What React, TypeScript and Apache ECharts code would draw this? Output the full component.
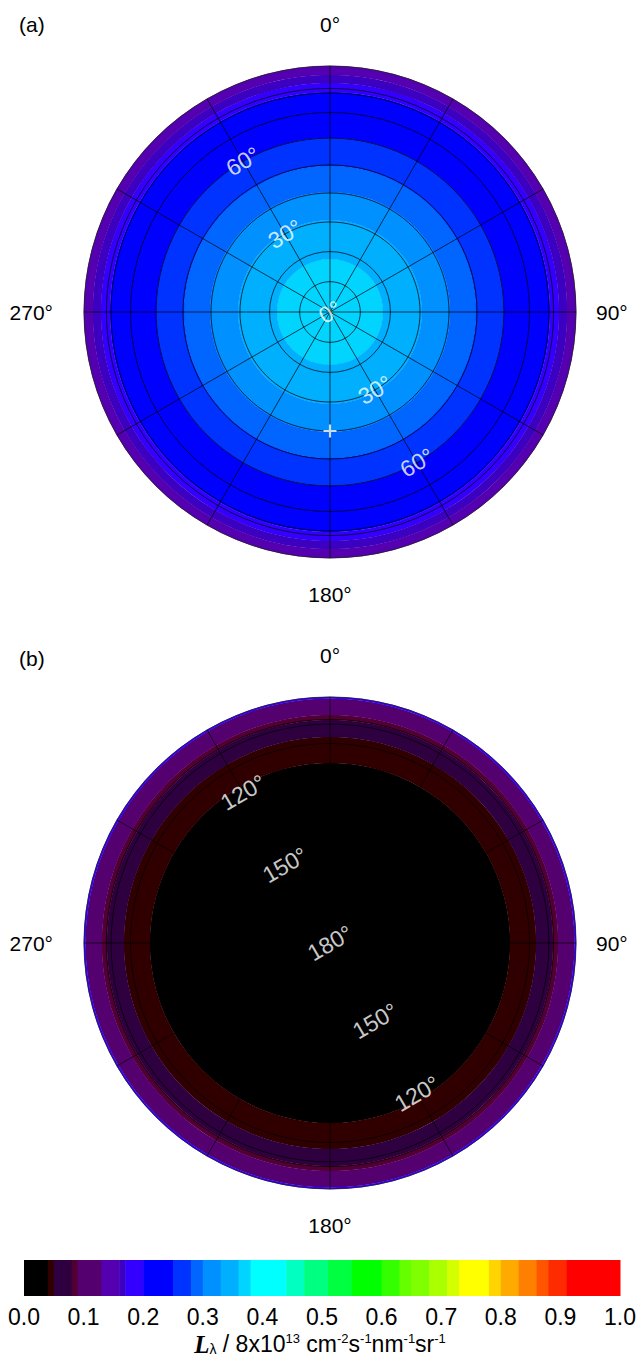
import React, { useEffect, useRef } from "react";
import * as echarts from "echarts";

// ---------- colour scale (colour bar) ----------
const CB_EDGES = [0, 0.04, 0.05, 0.08, 0.09, 0.13, 0.16, 0.17, 0.2, 0.25, 0.28, 0.3, 0.33, 0.36, 0.38, 0.44, 0.47, 0.51, 0.55, 0.6, 0.63, 0.65, 0.68, 0.71, 0.73, 0.78, 0.8, 0.83, 0.86, 0.88, 0.91, 1.0];
const CB_COLORS = [
  "#000000", "#300000", "#2e0040", "#520033", "#55006f", "#5500b0", "#3c00c0", "#3300ff",
  "#0000ff", "#0033ff", "#0066ff", "#0090ff", "#00b0ff", "#00d4ff", "#00ffff", "#00ffc0",
  "#00ff80", "#00ff40", "#00ff00", "#33ff00", "#66ff00", "#80ff00", "#aaff00", "#d4ff00",
  "#ffff00", "#ffd400", "#ffaa00", "#ff8000", "#ff5500", "#ff2b00", "#ff0000",
];
const CB_TICK_STEP = 0.1;

// ---------- azimuth ----------
const AZ_LABELED = [0, 90, 180, 270];
const AZ_LABEL_STYLE = ["t", "r", "b", "l"];
const SPOKE_STEP = 30;
const LABEL_SPOKES = [330, 150];

// ---------- panel (a): upward hemisphere, centred on zenith ----------
const A_BAND_OUTER = [17.5, 30.6, 40.3, 49.6, 60.0, 78.4, 82.3, 85.9, 90];
const A_BAND_LEVEL = [0.37, 0.345, 0.315, 0.29, 0.265, 0.225, 0.185, 0.165, 0.145];
const A_GRID = [10, 20, 30, 40, 50, 60, 70, 78, 80];
const A_LABEL_ZEN = [0, 30, 60];
const A_LABEL_TEXT = ["0°", "30°", "60°"];
const SUN_ZEN = 40;
const SUN_AZ = 180;

// ---------- panel (b): downward hemisphere, centred on nadir ----------
const B_BAND_OUTER = [117.7, 107.4, 100.3, 98.1, 90.8, 90];
const B_BAND_LEVEL = [0.02, 0.045, 0.065, 0.085, 0.11, 0.18];
const B_GRID = [170, 160, 150, 140, 130, 120, 110, 102, 100];
const B_LABEL_ZEN = [180, 150, 120];
const B_LABEL_TEXT = ["180°", "150°", "120°"];

const FONT = "'Liberation Sans', Arial, Helvetica, sans-serif";

// equal-area (Lambert azimuthal) radial coordinate, 0..1 for 0..90 deg off the pole
const toU = (offDeg: number) => Math.SQRT2 * Math.sin((offDeg * Math.PI) / 360);

const levelColor = (v: number) => {
  for (let i = 0; i < CB_COLORS.length; i++) {
    if (v >= CB_EDGES[i] && v < CB_EDGES[i + 1]) return CB_COLORS[i];
  }
  return CB_COLORS[CB_COLORS.length - 1];
};

function buildPanel(pi: number, pole: number, bandOuter: number[], bandLevel: number[], grid: number[], labZen: number[], labText: string[]) {
  const off = (z: number) => Math.abs(z - pole);
  const bandData = bandOuter.map((z, i) => {
    const inner = i === 0 ? 0 : toU(off(bandOuter[i - 1]));
    return [toU(off(z)), 0, inner, bandLevel[i]];
  });
  const gridData = grid.map((z) => [toU(off(z)), 0]);
  const labelData: any[] = [];
  labZen.forEach((z, i) => {
    const u = toU(off(z));
    if (u === 0) labelData.push({ value: [0, 0], name: labText[i] });
    else LABEL_SPOKES.forEach((az) => labelData.push({ value: [u, az], name: labText[i] }));
  });

  const radiusOf = (api: any, cs: any, u: number) => {
    const p = api.coord([u, 0]);
    return Math.hypot(p[0] - cs.cx, p[1] - cs.cy);
  };

  const series: any[] = [
    {
      type: "custom",
      coordinateSystem: "polar",
      polarIndex: pi,
      z: 1,
      silent: true,
      data: bandData,
      renderItem: (params: any, api: any) => {
        const cs = params.coordSys;
        const r = radiusOf(api, cs, api.value(0));
        const r0 = radiusOf(api, cs, api.value(2));
        return {
          type: "ring",
          shape: { cx: cs.cx, cy: cs.cy, r: r + 0.3, r0: r0 },
          style: { fill: levelColor(api.value(3)), stroke: null },
        };
      },
    },
    {
      type: "custom",
      coordinateSystem: "polar",
      polarIndex: pi,
      z: 2,
      silent: true,
      data: gridData,
      renderItem: (params: any, api: any) => {
        const cs = params.coordSys;
        const r = radiusOf(api, cs, api.value(0));
        return {
          type: "circle",
          shape: { cx: cs.cx, cy: cs.cy, r },
          style: { fill: "none", stroke: "#000", lineWidth: 0.7 },
        };
      },
    },
    {
      type: "scatter",
      coordinateSystem: "polar",
      polarIndex: pi,
      z: 6,
      silent: true,
      symbolSize: 1,
      itemStyle: { color: "rgba(0,0,0,0)" },
      data: labelData,
      label: {
        show: true,
        position: "inside",
        formatter: "{b}",
        rotate: 30,
        color: "#fff",
        fontSize: 23,
        fontFamily: FONT,
      },
    },
  ];
  return series;
}

export default function App() {
  const ref = useRef<HTMLDivElement>(null);
  useEffect(() => {
    document.body.style.margin = "0";
    const chart = echarts.init(ref.current!, undefined, { renderer: "svg" });
    const centers = [[330, 312], [330, 943]];
    const R = 246;

    const lab = { fontSize: 21, color: "#000", fontFamily: FONT };
    const angleAxis = (pi: number) => ({
      polarIndex: pi,
      type: "value",
      min: 0,
      max: 360,
      interval: SPOKE_STEP,
      startAngle: 90,
      clockwise: true,
      z: 4,
      axisLine: { show: true, lineStyle: { color: "#222", width: 0.8 } },
      axisTick: { show: false },
      splitLine: { show: true, lineStyle: { color: "#000", width: 0.7 } },
      axisLabel: {
        margin: 20,
        ...lab,
        formatter: (v: number) => {
          const k = AZ_LABELED.indexOf(v);
          return k >= 0 ? "{" + AZ_LABEL_STYLE[k] + "|" + v + "°}" : "";
        },
        rich: {
          t: { ...lab, padding: [0, 0, 11, 0] },
          b: { ...lab, padding: [6, 0, 0, 0] },
          l: { ...lab, padding: [0, 11, 0, 0] },
          r: { ...lab },
        },
      },
    });
    const radiusAxis = (pi: number) => ({ polarIndex: pi, type: "value", min: 0, max: 1, show: false });

    const seriesA = buildPanel(0, 0, A_BAND_OUTER, A_BAND_LEVEL, A_GRID, A_LABEL_ZEN, A_LABEL_TEXT);
    const seriesB = buildPanel(1, 180, B_BAND_OUTER, B_BAND_LEVEL, B_GRID, B_LABEL_ZEN, B_LABEL_TEXT);

    const sun = {
      type: "scatter",
      coordinateSystem: "polar",
      polarIndex: 0,
      z: 6,
      silent: true,
      symbol: "path://M5 0H7V5H12V7H7V12H5V7H0V5H5Z",
      symbolSize: 13,
      itemStyle: { color: "#fff" },
      data: [[toU(SUN_ZEN), SUN_AZ]],
    };

    const cbData = CB_COLORS.map((c, i) => [CB_EDGES[i], 1, CB_EDGES[i + 1], i]);
    const colorbar = {
      type: "custom",
      xAxisIndex: 0,
      yAxisIndex: 0,
      silent: true,
      data: cbData,
      renderItem: (params: any, api: any) => {
        const p0 = api.coord([api.value(0), 1]);
        const p1 = api.coord([api.value(2), 0]);
        return {
          type: "rect",
          shape: { x: p0[0], y: p0[1], width: p1[0] - p0[0] + 0.5, height: p1[1] - p0[1] },
          style: { fill: CB_COLORS[api.value(3)] },
        };
      },
    };

    const rich = {
      L: { fontFamily: "'Liberation Serif', 'DejaVu Serif', serif", fontStyle: "italic", fontWeight: "bold", fontSize: 25, lineHeight: 24, color: "#000" },
      s: { fontFamily: FONT, fontSize: 14, fontWeight: "normal", verticalAlign: "bottom", color: "#000" },
      n: { fontFamily: FONT, fontSize: 23, fontWeight: "normal", lineHeight: 24, color: "#000" },
      p: { fontFamily: FONT, fontSize: 13, fontWeight: "normal", verticalAlign: "top", color: "#000" },
    };

    chart.setOption({
      animation: false,
      textStyle: { fontFamily: FONT },
      title: [
        { text: "(a)", left: 14, top: 9, textStyle: { fontSize: 21, fontWeight: "normal", color: "#000", fontFamily: FONT } },
        { text: "(b)", left: 14, top: 643, textStyle: { fontSize: 21, fontWeight: "normal", color: "#000", fontFamily: FONT } },
        {
          text: "{L|L}{s|λ}{n| / 8x10}{p|13}{n| cm}{p|-2}{n|s}{p|-1}{n|nm}{p|-1}{n|sr}{p|-1}",
          left: "center",
          top: 1332,
          padding: 0,
          textStyle: { fontWeight: "normal", rich },
        },
      ],
      polar: centers.map((c) => ({ center: c, radius: R })),
      angleAxis: [angleAxis(0), angleAxis(1)],
      radiusAxis: [radiusAxis(0), radiusAxis(1)],
      grid: [{ left: 24, right: 20, top: 1260, height: 36 }],
      xAxis: [{
        type: "value",
        gridIndex: 0,
        min: 0,
        max: 1,
        interval: CB_TICK_STEP,
        axisLine: { show: false },
        axisTick: { show: false },
        splitLine: { show: false },
        axisLabel: { margin: 9, fontSize: 23, color: "#000", fontFamily: FONT, formatter: (v: number) => v.toFixed(1) },
      }],
      yAxis: [{ type: "value", gridIndex: 0, min: 0, max: 1, show: false }],
      series: [...seriesA, ...seriesB, sun, colorbar],
    });
    return () => chart.dispose();
  }, []);
  return <div ref={ref} style={{ width: 640, height: 1360 }} />;
}
